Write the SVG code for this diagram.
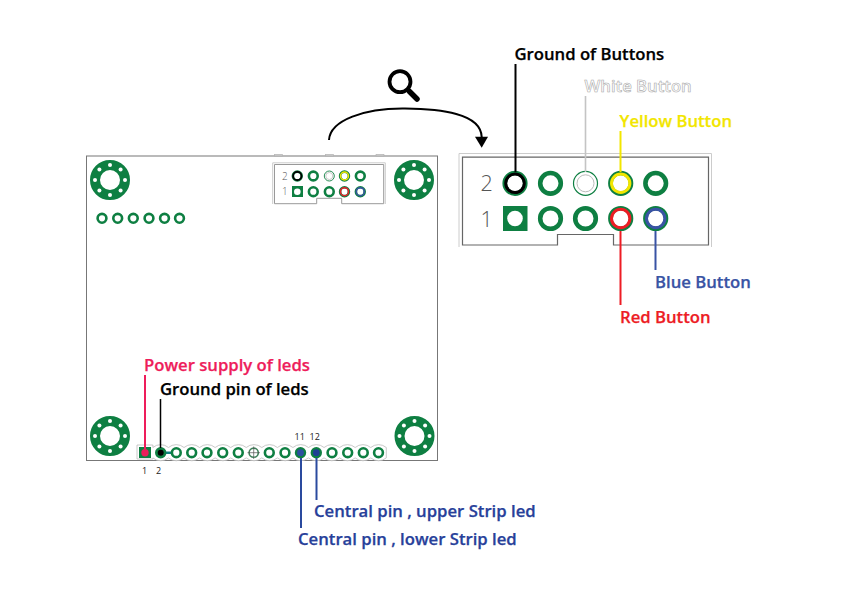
<svg xmlns="http://www.w3.org/2000/svg" width="842" height="595" viewBox="0 0 842 595">
<style>
.pcb{fill:none;stroke:#0e7f42}
.lp{stroke-width:4.6}
.sp{stroke-width:2.6}
.lbl{font-family:"Open Sans","Noto Sans",sans-serif;font-weight:600;font-size:16.7px;stroke-width:.25}
.num{font-family:"Open Sans",sans-serif;font-weight:300;fill:#555}
.tiny{font-family:"Open Sans",sans-serif;font-size:9px;fill:#222}
.wire{fill:none;stroke-width:2}
.light{fill:none;stroke:#ccc;stroke-width:1}
</style>
<defs>
<g id="mount">
<circle r="15" fill="none" stroke="#0e7f42" stroke-width="10"/>
<g fill="#fff"><circle cx="15" r="2"/><circle cx="-15" r="2"/><circle cy="15" r="2"/><circle cy="-15" r="2"/><circle cx="10.6" cy="10.6" r="2"/><circle cx="-10.6" cy="10.6" r="2"/><circle cx="10.6" cy="-10.6" r="2"/><circle cx="-10.6" cy="-10.6" r="2"/></g>
</g>
<circle id="pad" r="4.4" class="pcb sp"/>
<circle id="bigpad" r="10.3" class="pcb lp"/>
</defs>
<rect width="842" height="595" fill="#fff"/>
<g id="board">
<rect x="86.5" y="156" width="351" height="304.5" fill="#fff" stroke="#777" stroke-width="1"/>
<g fill="#ccc" stroke="#aaa" stroke-width=".5"><rect x="274.5" y="154.3" width="8" height="1.7"/><rect x="325.500" y="154.3" width="8" height="1.7"/><rect x="376" y="154.3" width="8" height="1.7"/></g>
</g>
<g id="mount-holes">
<use href="#mount" x="110" y="180"/><use href="#mount" x="414" y="180"/><use href="#mount" x="110" y="436"/><use href="#mount" x="414.5" y="436"/>
</g>
<g id="pin-row-top">
<use href="#pad" x="102" y="218.3"/><use href="#pad" x="117.7" y="218.3"/><use href="#pad" x="133.3" y="218.3"/><use href="#pad" x="149" y="218.3"/><use href="#pad" x="164.5" y="218.3"/><use href="#pad" x="179.5" y="218.3"/>
</g>
<g id="small-header">
<path class="light" d="M272.7 204V162.8H385.3V204"/>
<path d="M274.5 164.5H383.7V203.7H341.7V198.3H316.7V203.7H274.5Z" fill="none" stroke="#999" stroke-width="1"/>
<text x="282" y="179.5" class="num" font-size="10">2</text><text x="282" y="195.200" class="num" font-size="10">1</text>
<circle cx="297.3" cy="176" r="4.4" class="pcb sp"/>
<circle cx="297.3" cy="176" r="4.2" fill="none" stroke="#000" stroke-width="1.8"/>
<use href="#pad" x="313.3" y="176"/>
<circle cx="329.3" cy="176" r="5" fill="none" stroke="#0e7f42" stroke-width=".9"/><circle cx="329.3" cy="176" r="3.5" fill="none" stroke="#bbb" stroke-width=".8"/>
<circle cx="344.5" cy="176" r="4.4" class="pcb sp"/><circle cx="344.5" cy="176" r="4" fill="none" stroke="#f2e600" stroke-width="1.5"/>
<use href="#pad" x="360.3" y="176"/>
<rect x="292" y="186" width="11" height="11" fill="#0e7f42"/><circle cx="297.3" cy="191.7" r="3.3" fill="#fff"/>
<use href="#pad" x="313.3" y="191.7"/><use href="#pad" x="329.3" y="191.7"/>
<circle cx="344.5" cy="191.7" r="4.4" class="pcb sp"/><circle cx="344.5" cy="191.7" r="4" fill="none" stroke="#e8202a" stroke-width="1.5"/>
<circle cx="360.3" cy="191.7" r="4.4" class="pcb sp"/><circle cx="360.3" cy="191.7" r="4" fill="none" stroke="#3953a4" stroke-width="1.5"/>
</g>
<g id="bottom-strip">
<path fill="#fff" stroke="#bbb" stroke-width=".8" d="M137 445H152.900V447.500a12 12 0 0 1 15.560 0a12 12 0 0 1 15.560 0a12 12 0 0 1 15.560 0a12 12 0 0 1 15.560 0a12 12 0 0 1 15.560 0a12 12 0 0 1 15.560 0a12 12 0 0 1 15.560 0a12 12 0 0 1 15.560 0a12 12 0 0 1 15.560 0a12 12 0 0 1 15.560 0a12 12 0 0 1 15.560 0a12 12 0 0 1 15.560 0a12 12 0 0 1 15.560 0a12 12 0 0 1 15.560 0a12 12 0 0 1 15.560 0V457.900a12 12 0 0 1 -15.560 0a12 12 0 0 1 -15.560 0a12 12 0 0 1 -15.560 0a12 12 0 0 1 -15.560 0a12 12 0 0 1 -15.560 0a12 12 0 0 1 -15.560 0a12 12 0 0 1 -15.560 0a12 12 0 0 1 -15.560 0a12 12 0 0 1 -15.560 0a12 12 0 0 1 -15.560 0a12 12 0 0 1 -15.560 0a12 12 0 0 1 -15.560 0a12 12 0 0 1 -15.560 0a12 12 0 0 1 -15.560 0a12 12 0 0 1 -15.560 0V459H137Z"/>
<rect x="139" y="447" width="12" height="11" fill="#0e7f42"/><circle cx="145" cy="452.700" r="3.700" fill="#ee1d5b"/>
<rect x="165" y="451.500" width="8" height="2.500" fill="#108080"/>
<circle cx="160.700" cy="452.700" r="5.700" fill="#0e7f42"/><circle cx="160.700" cy="452.700" r="3" fill="#000"/>
<use href="#pad" x="176.300" y="452.700"/><use href="#pad" x="191.700" y="452.700"/><use href="#pad" x="207" y="452.700"/><use href="#pad" x="222.700" y="452.700"/><use href="#pad" x="238.300" y="452.700"/>
<circle cx="253.700" cy="452.700" r="4.600" fill="none" stroke="#3f7f5a" stroke-width="1.600"/><path d="M247.500 452.700H260M253.700 446.500V459" stroke="#555" stroke-width=".7"/>
<use href="#pad" x="269.300" y="452.700"/><use href="#pad" x="285" y="452.700"/>
<circle cx="300.500" cy="452.700" r="5.700" fill="#0e7f42"/><circle cx="300.500" cy="452.700" r="3.400" fill="#2d4fa0"/>
<circle cx="316.300" cy="452.700" r="5.700" fill="#0e7f42"/><circle cx="316.300" cy="452.700" r="3.400" fill="#1f3f94"/>
<use href="#pad" x="332" y="452.700"/><use href="#pad" x="347.700" y="452.700"/><use href="#pad" x="363.300" y="452.700"/><use href="#pad" x="378.500" y="452.700"/>
<text x="294.500" y="440" class="tiny">11</text><text x="309.500" y="440" class="tiny">12</text>
<text x="142" y="474" class="tiny">1</text><text x="156" y="474" class="tiny">2</text>
</g>
<g id="magnifier">
<circle cx="400" cy="81.700" r="10.500" fill="none" stroke="#000" stroke-width="3.800"/>
<path d="M409.500 91.500L417 99" stroke="#000" stroke-width="5.500" stroke-linecap="round" fill="none"/>
</g>
<g id="large-header">
<path class="light" stroke-width="1.400" d="M459 247V153.500H711.500V247"/>
<path d="M462.500 157.200H708.500V245H613.500V234.500H557.500V245H462.500Z" fill="none" stroke="#666" stroke-width="1.200"/>
<text x="480.500" y="190.500" class="num" font-size="21.500">2</text><text x="480.500" y="226.500" class="num" font-size="21.500">1</text>
<circle cx="515" cy="183.300" r="10.300" class="pcb lp"/><circle cx="515" cy="183.300" r="9.300" fill="none" stroke="#000" stroke-width="3"/>
<use href="#bigpad" x="550.500" y="183.300"/>
<circle cx="585.500" cy="183.300" r="12" fill="none" stroke="#0e7f42" stroke-width="1.200"/><circle cx="585.500" cy="183.300" r="8.500" fill="none" stroke="#bbb" stroke-width="1"/>
<circle cx="620.700" cy="183.300" r="10.300" class="pcb lp"/><circle cx="620.700" cy="183.300" r="9.200" fill="none" stroke="#f2e600" stroke-width="3"/>
<use href="#bigpad" x="655.700" y="183.300"/>
<rect x="503" y="206" width="24.500" height="25" fill="#0e7f42"/><circle cx="515" cy="218.500" r="7.800" fill="#fff"/>
<use href="#bigpad" x="550.500" y="218.500"/><use href="#bigpad" x="585.500" y="218.500"/>
<circle cx="620.700" cy="218.500" r="10.300" class="pcb lp"/><circle cx="620.700" cy="218.500" r="9.200" fill="none" stroke="#ed1c24" stroke-width="3"/>
<circle cx="655.700" cy="218.500" r="10.300" class="pcb lp"/><circle cx="655.700" cy="218.500" r="9.200" fill="none" stroke="#3953a4" stroke-width="3"/>
</g>
<g id="connectors">
<path d="M329 140C330 120 365 108 405 108.500C440 109 481 113 481.700 137" fill="none" stroke="#000" stroke-width="2"/>
<path d="M475 136.700H488L481.700 147.700Z" fill="#000"/>
<path class="wire" stroke="#000" d="M515.500 64V172"/>
<path stroke="#c4c4c4" stroke-width="1.600" fill="none" d="M585.500 96V172"/>
<path class="wire" stroke="#f2e600" d="M620.500 131V172"/>
<path class="wire" stroke="#ed1c24" d="M620.500 231V305"/>
<path class="wire" stroke="#3953a4" d="M655.500 231V270"/>
<path class="wire" stroke="#ee1d5b" d="M145 375V449"/>
<path stroke="#000" stroke-width="1.500" fill="none" d="M160.500 399V448"/>
<path class="wire" stroke="#2a4a9e" d="M301 458V528"/>
<path class="wire" stroke="#2a4a9e" d="M316.500 458V500"/>
</g>
<g id="labels">
<text x="514.500" y="60" class="lbl" fill="#000" stroke="#000">Ground of Buttons</text>
<text x="584.500" y="92" class="lbl" fill="#fff" stroke="#aaa" style="stroke-width:.6">White Button</text>
<text x="619.500" y="127" class="lbl" fill="#f2e600" stroke="#f2e600">Yellow Button</text>
<text x="655" y="287.500" class="lbl" fill="#3953a4" stroke="#3953a4">Blue Button</text>
<text x="620" y="322.500" class="lbl" fill="#ed1c24" stroke="#ed1c24">Red Button</text>
<text x="144" y="370.500" class="lbl" fill="#ee1d5b" stroke="#ee1d5b">Power supply of leds</text>
<text x="160" y="395" class="lbl" fill="#000" stroke="#000">Ground pin of leds</text>
<text x="314" y="517" class="lbl" fill="#27409a" stroke="#27409a">Central pin , upper Strip led</text>
<text x="298" y="545" class="lbl" fill="#27409a" stroke="#27409a">Central pin , lower Strip led</text>
</g>
</svg>
